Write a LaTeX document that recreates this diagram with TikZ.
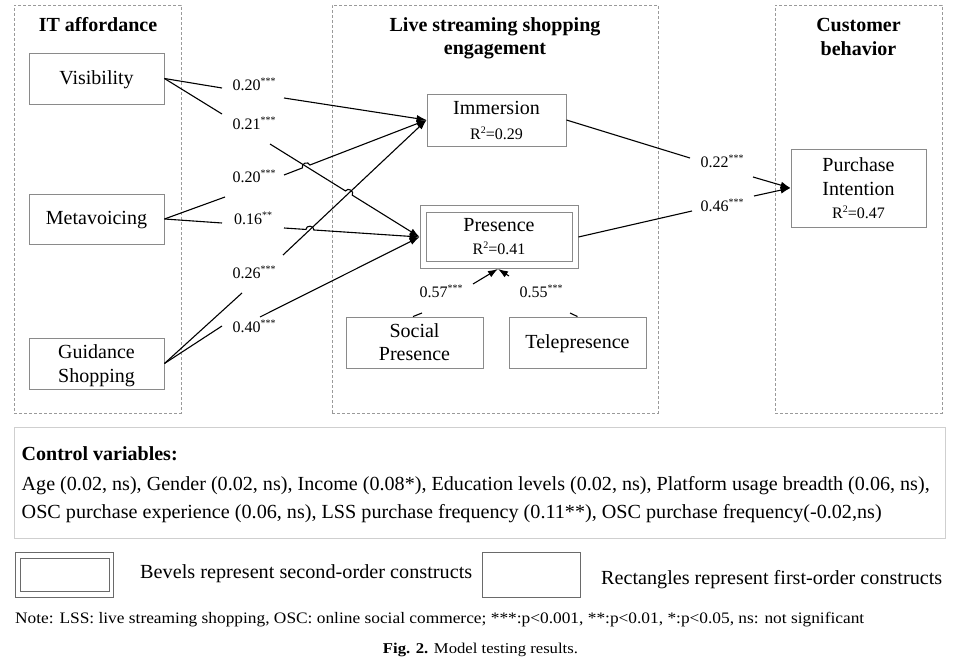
\documentclass[tikz,border=0pt]{standalone}
\usepackage{fontspec}
\usepackage{graphicx}
\setmainfont{Liberation Serif}
\usetikzlibrary{calc,arrows.meta}
\newcommand\fsz[2]{\fontsize{#1}{#2}\selectfont}
\newcommand\stars[1]{\raisebox{6pt}{\fsz{10}{10}#1}}
\newcommand\sqr[1]{R\raisebox{6pt}{\fsz{10}{10}2}=#1}
\definecolor{boxgray}{HTML}{8A8A8A}
\definecolor{dashgray}{HTML}{9A9A9A}
\definecolor{ctrlgray}{HTML}{CFCFCF}
\definecolor{leggray}{HTML}{6A6A6A}
\begin{document}
\begin{tikzpicture}[x=1pt,y=-1pt,
  cbox/.style={draw=boxgray,line width=0.9pt,inner sep=0pt,align=center,font=\fsz{20}{24}},
  oneline/.style={text height=13.5pt,text depth=2pt},
  group/.style={draw=dashgray,line width=0.8pt,dash pattern=on 3pt off 2pt},
  head/.style={font=\bfseries\fsz{20}{23.5},align=center,inner sep=0pt},
  coef/.style={font=\fsz{16}{18},inner sep=0pt},
  conn/.style={draw=black,line width=1.1pt},
  arr/.style={conn,-{Latex[length=10pt,width=7pt]}},
  hop/.style={bend left=90,looseness=1.5}]
\useasboundingbox (0,0) rectangle (954,661);
\fill[white] (0,0) rectangle (954,661);

% groups
\node[group,minimum width=167,minimum height=408,inner sep=0pt] (g1) at (97.5,209) {};
\node[group,minimum width=326,minimum height=408,inner sep=0pt] (g2) at (495,209) {};
\node[group,minimum width=167,minimum height=408,inner sep=0pt] (g3) at (858.5,209) {};
\node[head] (h1) at (98,24.5) {IT affordance};
\node[head] (h2) at (495,38.5) {Live streaming shopping\\engagement};
\node[head] (h3) at (858.5,37) {Customer\\behavior};

% constructs
\node[cbox,oneline,minimum width=135,minimum height=51] (vis) at (96.5,78.5) {Visibility};
\node[cbox,oneline,minimum width=135,minimum height=50] (meta) at (96.5,219) {Metavoicing};
\node[cbox,text depth=0pt,minimum width=135,minimum height=51] (guid) at (96.5,363.5) {Guidance\\[-0.5pt]Shopping};
\node[cbox,minimum width=139,minimum height=52] (imm) at (496.5,120) {Immersion\\[1pt]{\fsz{16}{19}\sqr{0.29}}};
\node[cbox,minimum width=158,minimum height=63] (pres) at (499,237) {};
\node[cbox,minimum width=146,minimum height=49] (presin) at (499,237) {Presence\\[-1pt]{\fsz{16}{19}\sqr{0.41}}};
\node[cbox,minimum width=137,minimum height=51] (soc) at (414.5,342.5) {Social\\[-0.7pt]Presence};
\node[cbox,oneline,minimum width=137,minimum height=51] (tele) at (577.5,342.5) {Telepresence};
\node[cbox,minimum width=135,minimum height=78] (pi) at (858.5,188) {Purchase\\Intention\\[-1pt]{\fsz{16}{19}\sqr{0.47}}};

% coefficient labels
\node[coef] (l1) at (254,84) {0.20\stars{***}};
\node[coef] (l2) at (254,123) {0.21\stars{***}};
\node[coef] (l3) at (254,176) {0.20\stars{***}};
\node[coef] (l4) at (253,218) {0.16\stars{**}};
\node[coef] (l5) at (254,326) {0.40\stars{***}};
\node[coef] (l6) at (254,272.5) {0.26\stars{***}};
\node[coef] (l7) at (722,161) {0.22\stars{***}};
\node[coef] (l8) at (722,205) {0.46\stars{***}};
\node[coef] (l9) at (441,291) {0.57\stars{***}};
\node[coef] (l10) at (541,291) {0.55\stars{***}};

% break points
\coordinate (a1) at (222,88);   \coordinate (b1) at (284,98);
\coordinate (a2) at (222,114);  \coordinate (b2) at (270,144);
\coordinate (a3) at (225,197);  \coordinate (b3) at (284,175);
\coordinate (a4) at (222,223);  \coordinate (b4) at (284,228);
\coordinate (a5) at (222,326);  \coordinate (b5) at (260,317);
\coordinate (a6) at (242,293);  \coordinate (b6) at (283,255);
\coordinate (a7) at (690,158);  \coordinate (b7) at (753,177);
\coordinate (a8) at (692,211);  \coordinate (b8) at (754,196);
\coordinate (a9) at (422,313);  \coordinate (b9) at (473,284);
\coordinate (a10) at (570,313); \coordinate (b10) at (509,276);
\coordinate (pt) at ($(pres.south)+(-1,0)$);

\coordinate (x1) at (intersection of b3--imm.west and b2--pres.west);
\coordinate (x2) at (intersection of b2--pres.west and b6--imm.west);
\coordinate (x3) at (intersection of b4--pres.west and b6--imm.west);

% connectors
\draw[conn] (vis.east) -- (a1);
\draw[arr] (b1) -- (imm.west);
\draw[conn] (vis.east) -- (a2);
\draw[arr] (b2) -- ($(x2)!4pt!(b2)$) to[hop] ($(x2)!4pt!(pres.west)$) -- (pres.west);
\draw[conn] (meta.east) -- (a3);
\draw[arr] (b3) -- ($(x1)!4pt!(b3)$) to[hop] ($(x1)!4pt!(imm.west)$) -- (imm.west);
\draw[conn] (meta.east) -- (a4);
\draw[arr] (b4) -- ($(x3)!4pt!(b4)$) to[hop] ($(x3)!4pt!(pres.west)$) -- (pres.west);
\draw[conn] (guid.east) -- (a5);
\draw[arr] (b5) -- (pres.west);
\draw[conn] (guid.east) -- (a6);
\draw[arr] (b6) -- (imm.west);
\draw[conn] (imm.east) -- (a7);
\draw[arr] (b7) -- (pi.west);
\draw[conn] (pres.east) -- (a8);
\draw[arr] (b8) -- (pi.west);
\draw[conn] ($(soc.north)+(-1.5,0)$) -- (a9);
\draw[arr] (b9) -- (pt);
\draw[conn] (tele.north) -- (a10);
\draw[arr] (b10) -- (pt);

% control variables
\node[draw=ctrlgray,line width=0.8pt,minimum width=931,minimum height=111,inner sep=0pt] (ctrl) at (479.5,482.5) {};
\node[anchor=base west,inner sep=0pt] (ct) at (21.5,460) {\resizebox{156pt}{\height}{\bfseries\fsz{20}{24}Control variables:}};
\node[anchor=base west,inner sep=0pt] (c1) at (21.5,490) {\resizebox{908pt}{\height}{\fsz{20}{24}Age (0.02, ns), Gender (0.02, ns), Income (0.08*), Education levels (0.02, ns), Platform usage breadth (0.06, ns),}};
\node[anchor=base west,inner sep=0pt] (c2) at (21.5,518.5) {\resizebox{860pt}{\height}{\fsz{20}{24}OSC purchase experience (0.06, ns), LSS purchase frequency (0.11**), OSC purchase frequency(-0.02,ns)}};

% legend
\node[draw=leggray,line width=0.9pt,minimum width=98,minimum height=45.5,inner sep=0pt] (lgb) at (64,575) {};
\node[draw=leggray,line width=0.9pt,minimum width=88.5,minimum height=33,inner sep=0pt] (lgbin) at (65,574.5) {};
\node[anchor=base west,inner sep=0pt] (lt1) at (140,578) {\resizebox{332pt}{\height}{\fsz{20}{24}Bevels represent second-order constructs}};
\node[draw=leggray,line width=0.9pt,minimum width=98.5,minimum height=44.5,inner sep=0pt] (lgr) at (531.5,575) {};
\node[anchor=base west,inner sep=0pt] (lt2) at (601,584.5) {\resizebox{341pt}{\height}{\fsz{20}{24}Rectangles represent first-order constructs}};

% note and caption
\node[anchor=base west,inner sep=0pt] (note) at (15,623) {\resizebox{849pt}{\height}{\fsz{16}{19}Note: LSS: live streaming shopping, OSC: online social commerce; ***:p<0.001, **:p<0.01, *:p<0.05, ns: not significant}};
\node[anchor=base,inner sep=0pt] (cap) at (480.5,653) {\resizebox{195pt}{\height}{\fsz{15}{18}\textbf{Fig. 2.} Model testing results.}};
\end{tikzpicture}
\end{document}
